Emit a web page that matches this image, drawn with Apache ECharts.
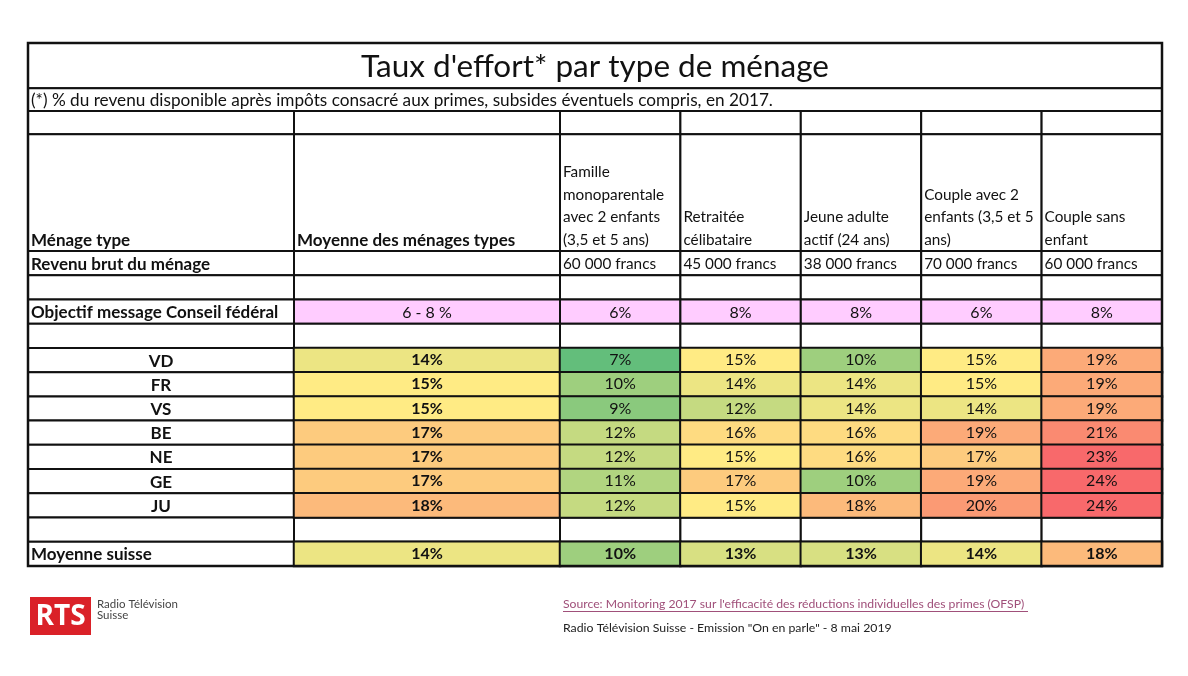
<!DOCTYPE html>
<html>
<head>
<meta charset="utf-8">
<script src="https://cdn.jsdelivr.net/npm/echarts@6/dist/echarts.min.js"></script>
<style>html,body{margin:0;padding:0;background:#fff;}#c{width:1188px;height:676px;}</style>
</head>
<body>
<div id="c"></div>
<script>
// ---------- DATA ----------
const chartTitle = "Taux d'effort* par type de ménage";
const footnote = "(*) % du revenu disponible après impôts consacré aux primes, subsides éventuels compris, en 2017.";
const rowHeaderLabel = "Ménage type";
const averageHeaderLabel = "Moyenne des ménages types";
const householdTypes = [
  "Famille\nmonoparentale\navec 2 enfants\n(3,5 et 5 ans)",
  "Retraitée\ncélibataire",
  "Jeune adulte\nactif (24 ans)",
  "Couple avec 2\nenfants (3,5 et 5\nans)",
  "Couple sans\nenfant"
];
const incomeLabel = "Revenu brut du ménage";
const grossIncome = ["60 000 francs", "45 000 francs", "38 000 francs", "70 000 francs", "60 000 francs"];
const targetLabel = "Objectif message Conseil fédéral";
const targetAverage = "6 - 8 %";
const targets = ["6%", "8%", "8%", "6%", "8%"];
const cantons = ["VD", "FR", "VS", "BE", "NE", "GE", "JU"];
const cantonAverage = [14, 15, 15, 17, 17, 17, 18];
const cantonValues = [
  [7, 15, 10, 15, 19],
  [10, 14, 14, 15, 19],
  [9, 12, 14, 14, 19],
  [12, 16, 16, 19, 21],
  [12, 15, 16, 17, 23],
  [11, 17, 10, 19, 24],
  [12, 15, 18, 20, 24]
];
const swissLabel = "Moyenne suisse";
const swissAverage = 14;
const swissValues = [10, 13, 13, 14, 18];
const sourceText = "Source: Monitoring 2017 sur l'efficacité des réductions individuelles des primes (OFSP)";
const creditText = "Radio Télévision Suisse - Emission \"On en parle\" - 8 mai 2019";

// ---------- LAYOUT / STYLE ----------
const FONT = "Lato, 'Liberation Sans', sans-serif";
const FS_BOLD = 17;
const FS_HEAD = 15.3;
const FS_VAL = 16;
const FS_NOTE = 17.2;
const FS_TITLE = 31.5;
const LINE = '#111';
const LW = 2;
const PINK = '#FFCCFF';

const bodyRows = ['revenu', 'gap1', 'objectif', 'gap2'].concat(cantons, ['gap3', swissLabel]);
const headRows = ['gap0', 'h1', 'h2', 'h3', 'h4', 'h5'];
const rowOf = k => bodyRows.indexOf(k);

function cell(col, row, span, text, opt) {
  return Object.assign({ col, row, span, text: text || '', fill: '#fff', align: 'left', valign: 'middle', bold: false, size: FS_HEAD }, opt || {});
}
const cellSets = [];

// title grid (0)
cellSets.push([
  cell(0, 0, 2, chartTitle, { align: 'center', size: FS_TITLE }),
  cell(0, 2, 1, footnote, { size: FS_NOTE })
]);
// header band L (1), M (2), R (3)
cellSets.push([cell(0, 0, 1), cell(0, 1, 5, rowHeaderLabel, { bold: true, valign: 'bottom', size: FS_BOLD })]);
cellSets.push([cell(0, 0, 1), cell(0, 1, 5, averageHeaderLabel, { bold: true, valign: 'bottom', size: FS_BOLD })]);
cellSets.push(householdTypes.map((t, j) => cell(j, 0, 1)).concat(
  householdTypes.map((t, j) => cell(j, 1, 5, t, { valign: 'bottom' }))));
// body band L (4)
cellSets.push([
  cell(0, rowOf('revenu'), 1, incomeLabel, { bold: true, size: FS_BOLD }),
  cell(0, rowOf('gap1'), 1),
  cell(0, rowOf('objectif'), 1, targetLabel, { bold: true, size: FS_BOLD }),
  cell(0, rowOf('gap2'), 1)
].concat(cantons.map(c => cell(0, rowOf(c), 1, c, { bold: true, align: 'center', size: FS_BOLD })), [
  cell(0, rowOf('gap3'), 1),
  cell(0, rowOf(swissLabel), 1, swissLabel, { bold: true, size: FS_BOLD })
]));
// body band M (5)
cellSets.push([
  cell(0, rowOf('revenu'), 1),
  cell(0, rowOf('gap1'), 1),
  cell(0, rowOf('objectif'), 1, targetAverage, { fill: PINK, align: 'center', size: FS_VAL }),
  cell(0, rowOf('gap2'), 1),
  cell(0, rowOf('gap3'), 1)
]);
// body band R (6)
cellSets.push([].concat(
  grossIncome.map((t, j) => cell(j, rowOf('revenu'), 1, t)),
  grossIncome.map((t, j) => cell(j, rowOf('gap1'), 1)),
  targets.map((t, j) => cell(j, rowOf('objectif'), 1, t, { fill: PINK, align: 'center', size: FS_VAL })),
  targets.map((t, j) => cell(j, rowOf('gap2'), 1)),
  targets.map((t, j) => cell(j, rowOf('gap3'), 1))
));

function renderCell(params, api) {
  const c = cellSets[params.seriesIndex][params.dataIndex];
  const p = api.coord([api.value(0), api.value(1)]);
  const s = api.size([1, 1]);
  const x = p[0] - s[0] / 2, y = p[1] - s[1] / 2, w = s[0], h = s[1] * c.span;
  const tx = c.align === 'center' ? x + w / 2 : x + 3;
  const ty = c.valign === 'bottom' ? y + h + 0.5 : y + h / 2 + 1;
  return {
    type: 'group',
    children: [
      { type: 'rect', shape: { x, y, width: w, height: h }, style: { fill: c.fill, stroke: LINE, lineWidth: LW } },
      { type: 'text', z2: 10, style: {
        text: c.text, x: tx, y: ty, align: c.align, verticalAlign: c.valign,
        fontFamily: FONT, fontSize: c.size, fontWeight: c.bold ? 'bold' : 'normal',
        fill: '#111', lineHeight: 22.7 } }
    ]
  };
}

const grids = [
  { left: 28, top: 43, width: 1134, height: 68 },
  { left: 28, top: 111, width: 266, height: 140 },
  { left: 294, top: 111, width: 266, height: 140 },
  { left: 560, top: 111, width: 602, height: 140 },
  { left: 28, top: 251, width: 266, height: 315 },
  { left: 294, top: 251, width: 266, height: 315 },
  { left: 560, top: 251, width: 602, height: 315 }
];
const xCats = [['t'], ['L'], ['M'], householdTypes, ['L'], ['M'], householdTypes];
const yCats = [['title', 'title2', 'note'], headRows, headRows, headRows, bodyRows, bodyRows, bodyRows];

const xAxes = grids.map((g, i) => ({ type: 'category', gridIndex: i, data: xCats[i], show: false }));
const yAxes = grids.map((g, i) => ({ type: 'category', gridIndex: i, data: yCats[i], inverse: true, show: false }));

const series = cellSets.map((cs, i) => ({
  type: 'custom', xAxisIndex: i, yAxisIndex: i, renderItem: renderCell,
  data: cs.map(c => [c.col, c.row, c.span]), silent: true, z: 2
}));

const heatLabel = { show: true, fontFamily: FONT, fontSize: FS_VAL, color: '#111' };
const avgData = cantons.map((c, i) => ({ value: [0, rowOf(c), cantonAverage[i]], label: { fontWeight: 'bold' } }))
  .concat([{ value: [0, rowOf(swissLabel), swissAverage], label: { fontWeight: 'bold' } }]);
const typeData = [];
cantons.forEach((c, i) => cantonValues[i].forEach((v, j) => typeData.push({ value: [j, rowOf(c), v] })));
swissValues.forEach((v, j) => typeData.push({ value: [j, rowOf(swissLabel), v], label: { fontWeight: 'bold' } }));

series.push({
  type: 'heatmap', xAxisIndex: 5, yAxisIndex: 5, data: avgData, z: 3,
  label: Object.assign({ formatter: p => p.value[2] + '%' }, heatLabel),
  itemStyle: { borderColor: LINE, borderWidth: LW }, emphasis: { disabled: true }
});
series.push({
  type: 'heatmap', xAxisIndex: 6, yAxisIndex: 6, data: typeData, z: 3,
  label: Object.assign({ formatter: p => p.value[2] + '%' }, heatLabel),
  itemStyle: { borderColor: LINE, borderWidth: LW }, emphasis: { disabled: true }
});

const option = {
  animation: false,
  backgroundColor: '#fff',
  grid: grids,
  xAxis: xAxes,
  yAxis: yAxes,
  visualMap: {
    type: 'continuous', show: false, min: 7, max: 23, dimension: 2,
    seriesIndex: [7, 8],
    inRange: { color: ['#63BE7B', '#FFEB84', '#F8696B'] }
  },
  series: series,
  graphic: [
    { type: 'rect', shape: { x: 28, y: 43, width: 1134, height: 523 }, style: { fill: 'none', stroke: LINE, lineWidth: 2.5 }, z: 100, silent: true },
    { type: 'rect', shape: { x: 30, y: 597, width: 61, height: 38 }, style: { fill: '#DA2128' } },
    { type: 'text', style: { x: 60.5, y: 617, text: 'RTS', fill: '#fff', align: 'center', verticalAlign: 'middle', font: "bold 28px 'Open Sans', sans-serif" } },
    { type: 'text', style: { x: 97, y: 610, text: 'Radio Télévision\nSuisse', fill: '#444', verticalAlign: 'middle', fontFamily: FONT, fontSize: 11.5, lineHeight: 11.5 } },
    { type: 'text', style: { x: 563, y: 604, text: sourceText, fill: '#A0507A', verticalAlign: 'middle', fontFamily: FONT, fontSize: 12.2 } },
    { type: 'rect', shape: { x: 563, y: 611, width: 465, height: 1 }, style: { fill: '#A0507A' } },
    { type: 'text', style: { x: 563, y: 628, text: creditText, fill: '#222', verticalAlign: 'middle', fontFamily: FONT, fontSize: 12.3 } }
  ]
};

const chart = echarts.init(document.getElementById('c'), null, { renderer: 'canvas' });
chart.setOption(option);
</script>
</body>
</html>
